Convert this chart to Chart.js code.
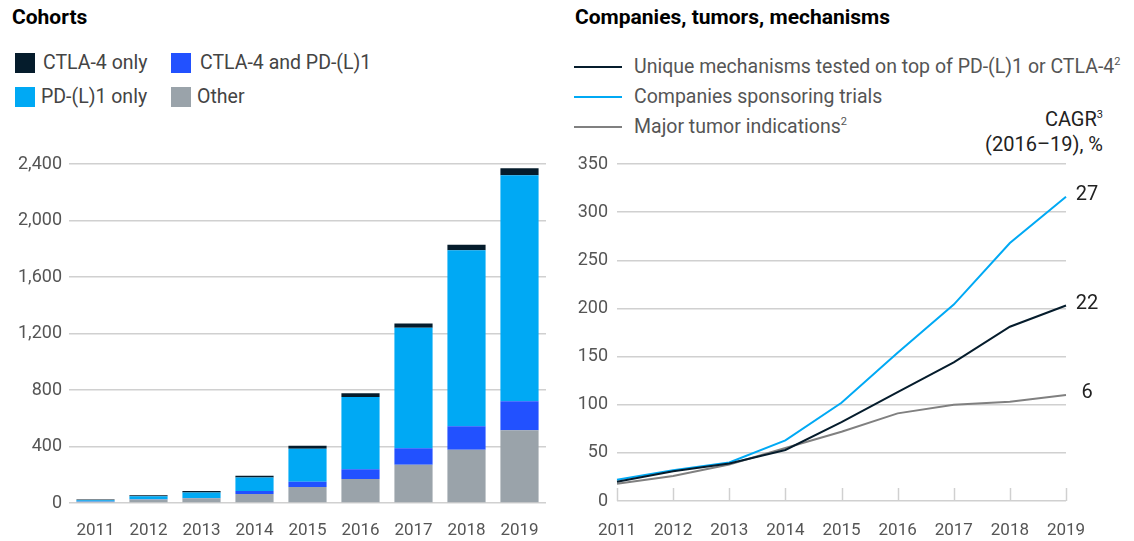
<!DOCTYPE html>
<html>
<head>
<meta charset="utf-8">
<script src="https://cdn.jsdelivr.net/npm/chart.js@4.4.1/dist/chart.umd.min.js"></script>
<style>
    body { margin: 0; width: 1134px; height: 541px; position: relative; background: #fff; font-family: Roboto, "Liberation Sans", sans-serif; overflow: hidden; }
    .title { position: absolute; top: 4px; font-size: 21px; font-weight: bold; color: #000; line-height: 26px; }
    .lg { position: absolute; font-size: 19.5px; color: #444; line-height: 22px; white-space: nowrap; }
    .box { position: absolute; width: 20px; height: 20px; }
    .ln { position: absolute; width: 48px; height: 2px; }
    sup { font-size: 11px; vertical-align: 8px; line-height: 0; }
    .cagr { position: absolute; right: 31px; text-align: right; font-size: 20px; color: #222; line-height: 25px; }
    #left { position: absolute; left: 0; top: 140px; }
    #right { position: absolute; left: 565px; top: 140px; }
</style>
</head>
<body>
<div class="title" style="left:12px">Cohorts</div>
<div class="box" style="left:15px;top:53px;background:#051c2c"></div>
<div class="lg" style="left:43px;top:52px">CTLA-4 only</div>
<div class="box" style="left:171px;top:53px;background:#2251ff"></div>
<div class="lg" style="left:200px;top:52px">CTLA-4 and PD-(L)1</div>
<div class="box" style="left:15px;top:87px;background:#00a9f4"></div>
<div class="lg" style="left:41px;top:86px">PD-(L)1 only</div>
<div class="box" style="left:171px;top:87px;background:#9aa3aa"></div>
<div class="lg" style="left:197px;top:86px">Other</div>

<div class="title" style="left:575px">Companies, tumors, mechanisms</div>
<div class="ln" style="left:574px;top:66px;background:#051c2c"></div>
<div class="lg" style="left:634px;top:56px;color:#555">Unique mechanisms tested on top of PD-(L)1 or CTLA-4<sup>2</sup></div>
<div class="ln" style="left:574px;top:96px;background:#00a9f4"></div>
<div class="lg" style="left:634px;top:86px;color:#555">Companies sponsoring trials</div>
<div class="ln" style="left:574px;top:126px;background:#808080"></div>
<div class="lg" style="left:634px;top:116px;color:#555">Major tumor indications<sup>2</sup></div>
<div class="cagr" style="top:107px">CAGR<sup>3</sup><br>(2016–19), %</div>

<canvas id="left" width="560" height="401"></canvas>
<canvas id="right" width="569" height="401"></canvas>

<script>
// dane - lewy wykres (kohorty)
var years = ['2011', '2012', '2013', '2014', '2015', '2016', '2017', '2018', '2019'];
var other = [8, 24, 33, 63, 113, 170, 271, 377, 515];
var ctlaAndPd = [2, 3, 3, 22, 38, 69, 116, 166, 205];
var pdOnly = [10, 21, 39, 96, 233, 511, 854, 1246, 1600];
var ctlaOnly = [5, 6, 10, 12, 22, 27, 29, 40, 50];

// dane - prawy wykres
var mechanisms = [20, 31, 39, 53, 82, 113, 144, 181, 203];
var companies = [22, 32, 40, 63, 102, 154, 204, 268, 316];
var tumors = [18, 26, 38, 55, 72, 91, 100, 103, 110];
var cagrLabels = ['22', '27', '6'];

Chart.defaults.font.family = 'Roboto, "Liberation Sans", sans-serif';
Chart.defaults.font.size = 17;
Chart.defaults.color = '#555';

var gridColor = '#d0d0d0';

new Chart(document.getElementById('left'), {
    type: 'bar',
    data: {
        labels: years,
        datasets: [
            { label: 'Other', data: other, backgroundColor: '#9aa3aa' },
            { label: 'CTLA-4 and PD-(L)1', data: ctlaAndPd, backgroundColor: '#2251ff' },
            { label: 'PD-(L)1 only', data: pdOnly, backgroundColor: '#00a9f4' },
            { label: 'CTLA-4 only', data: ctlaOnly, backgroundColor: '#051c2c' }
        ]
    },
    options: {
        responsive: false,
        animation: false,
        layout: { padding: { top: 24, right: 14 } },
        plugins: { legend: { display: false }, tooltip: { enabled: false } },
        datasets: { bar: { categoryPercentage: 1, barPercentage: 0.72 } },
        scales: {
            x: {
                stacked: true,
                grid: { display: false },
                border: { display: false },
                ticks: { padding: 10 },
                afterFit: function (s) { s.height = 38; }
            },
            y: {
                stacked: true,
                min: 0,
                max: 2400,
                grid: { color: gridColor, drawTicks: false, lineWidth: 1.5 },
                border: { display: false },
                ticks: {
                    stepSize: 400,
                    padding: 7,
                    font: { size: 18 },
                    callback: function (v) { return v.toLocaleString('en-US'); }
                },
                afterFit: function (s) { s.width = 69; }
            }
        }
    }
});

// kreski na osi X skierowane do gory + etykiety CAGR
var extrasPlugin = {
    id: 'extras',
    afterDatasetsDraw: function (chart) {
        var ctx = chart.ctx;
        var xs = chart.scales.x;
        var bottom = chart.chartArea.bottom;
        ctx.save();
        ctx.strokeStyle = gridColor;
        ctx.lineWidth = 1.5;
        xs.ticks.forEach(function (t, i) {
            var x = Math.round(xs.getPixelForTick(i)) + 0.5;
            ctx.beginPath();
            ctx.moveTo(x, bottom);
            ctx.lineTo(x, bottom - 13);
            ctx.stroke();
        });
        ctx.fillStyle = '#222';
        ctx.font = '20px Roboto, "Liberation Sans", sans-serif';
        ctx.textAlign = 'center';
        ctx.textBaseline = 'middle';
        chart.data.datasets.forEach(function (ds, i) {
            var meta = chart.getDatasetMeta(i);
            var pt = meta.data[meta.data.length - 1];
            ctx.fillText(cagrLabels[i], pt.x + 21, pt.y - 2);
        });
        ctx.restore();
    }
};

new Chart(document.getElementById('right'), {
    type: 'line',
    data: {
        labels: years,
        datasets: [
            { label: 'Unique mechanisms', data: mechanisms, borderColor: '#051c2c' },
            { label: 'Companies sponsoring trials', data: companies, borderColor: '#00a9f4' },
            { label: 'Major tumor indications', data: tumors, borderColor: '#808080' }
        ]
    },
    options: {
        responsive: false,
        animation: false,
        layout: { padding: { top: 24, right: 68 } },
        elements: { point: { radius: 0 }, line: { borderWidth: 2, tension: 0 } },
        plugins: { legend: { display: false }, tooltip: { enabled: false } },
        scales: {
            x: {
                grid: { display: false },
                border: { display: false },
                ticks: { padding: 12 },
                afterFit: function (s) { s.height = 40; }
            },
            y: {
                min: 0,
                max: 350,
                grid: { color: gridColor, drawTicks: false, lineWidth: 1.5 },
                border: { display: false },
                ticks: { stepSize: 50, padding: 9, font: { size: 18 } },
                afterFit: function (s) { s.width = 52; }
            }
        }
    },
    plugins: [extrasPlugin]
});
</script>
</body>
</html>
